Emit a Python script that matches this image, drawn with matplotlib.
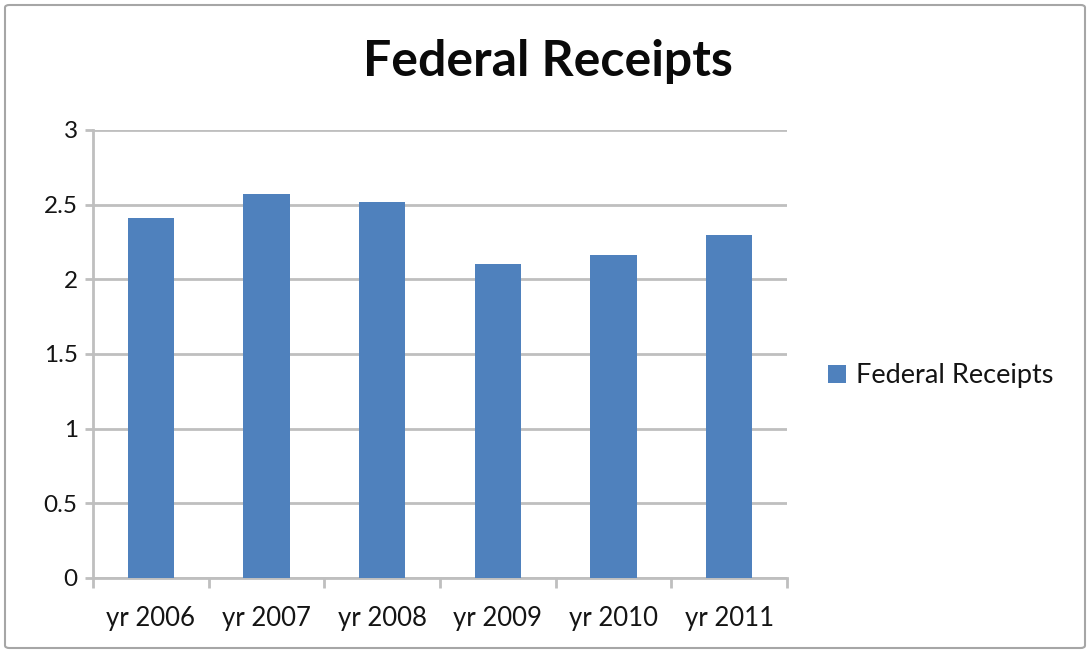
import matplotlib
matplotlib.use("Agg")
import matplotlib.pyplot as plt
from matplotlib.patches import FancyBboxPatch, Patch

categories = ["yr 2006", "yr 2007", "yr 2008", "yr 2009", "yr 2010", "yr 2011"]
receipts = [2.41, 2.57, 2.52, 2.10, 2.16, 2.30]
y_ticks = [0, 0.5, 1, 1.5, 2, 2.5, 3]
y_tick_labels = ["0", "0.5", "1", "1.5", "2", "2.5", "3"]
series_name = "Federal Receipts"

plt.rcParams["font.family"] = ["Lato", "DejaVu Sans"]

W, H, DPI = 1090, 653, 100
fig = plt.figure(figsize=(W / DPI, H / DPI), dpi=DPI)
fig.patch.set_facecolor("white")

# chart border
border = FancyBboxPatch((5 / W, 5 / H), 1080 / W, 643 / H,
                        boxstyle="round,pad=0,rounding_size=0.004",
                        transform=fig.transFigure, fill=False,
                        edgecolor="#a6a6a6", linewidth=1.5)
fig.patches.append(border)

ax = fig.add_axes([93 / W, 75 / H, 694 / W, 448 / H])
bar_color = "#4f81bd"
x = range(len(categories))
ax.bar(x, receipts, width=0.4, color=bar_color, zorder=3)

ax.set_xlim(-0.5, len(categories) - 0.5)
ax.set_ylim(0, 3)
ax.set_yticks(y_ticks)
ax.set_yticklabels(y_tick_labels)
ax.set_xticks(list(x))
ax.set_xticklabels(categories)

grid_color = "#bfbfbf"
ax.yaxis.grid(True, color=grid_color, linewidth=2, zorder=0)
ax.set_axisbelow(True)
for side in ("top", "right"):
    ax.spines[side].set_visible(False)
for side in ("left", "bottom"):
    ax.spines[side].set_color(grid_color)
    ax.spines[side].set_linewidth(2)

text_color = "#141414"
# category boundary ticks on the x axis
ax.set_xticks([i - 0.5 for i in range(len(categories) + 1)], minor=True)
ax.tick_params(axis="x", which="major", length=0, pad=20,
               labelsize=18.5, labelcolor=text_color)
ax.tick_params(axis="x", which="minor", length=7, width=2,
               color=grid_color, direction="out")
ax.tick_params(axis="y", which="major", length=6, width=2,
               color=grid_color, direction="out", pad=5,
               labelsize=17.5, labelcolor=text_color)

fig.text(548 / W, 1 - 62 / H, "Federal Receipts", ha="center", va="center",
         fontsize=36, fontweight="bold", color="#0a0a0a")

handle = Patch(facecolor=bar_color, edgecolor="none")
fig.legend([handle], [series_name], loc="center left",
           bbox_to_anchor=(828 / W, 1 - 376 / H), frameon=False,
           fontsize=19.5, handlelength=0.65, handleheight=0.65,
           handletextpad=0.4, labelcolor=text_color, borderaxespad=0,
           borderpad=0)

fig.savefig("out.png", dpi=DPI, facecolor="white")
